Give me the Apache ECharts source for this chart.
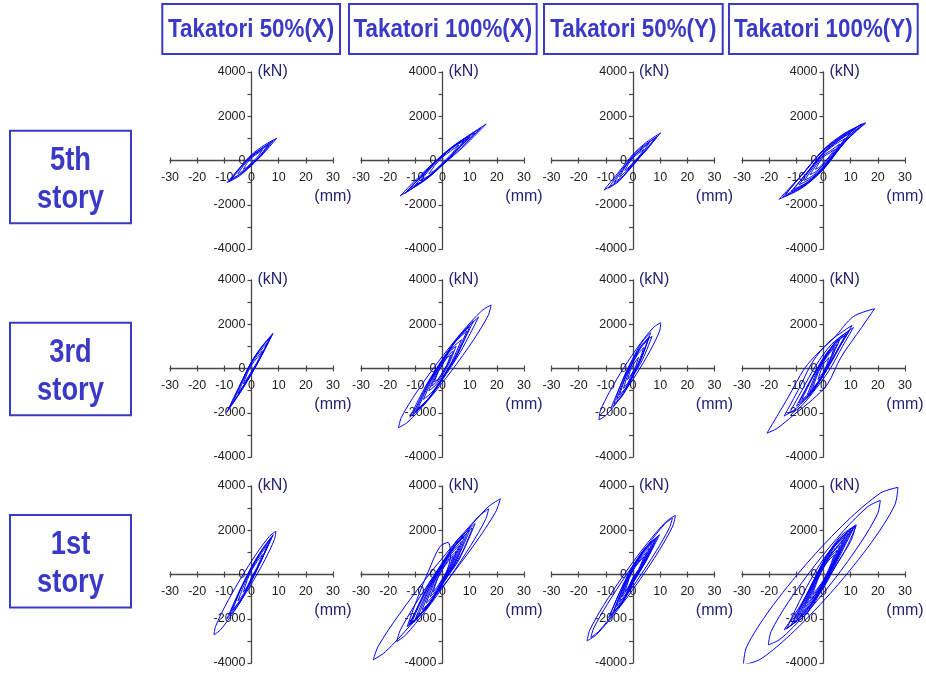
<!DOCTYPE html>
<html><head><meta charset="utf-8">
<script src="https://cdn.jsdelivr.net/npm/echarts@6/dist/echarts.min.js"></script>
<style>html,body{margin:0;padding:0;background:#fff}#c{width:926px;height:677px}</style>
</head><body><div id="c"></div><script>
// ---------- texts ----------
const columnTitles = ['Takatori 50%(X)', 'Takatori 100%(X)', 'Takatori 50%(Y)', 'Takatori 100%(Y)'];
const rowTitles = [['5th', 'story'], ['3rd', 'story'], ['1st', 'story']];
const xUnit = '(mm)';
const yUnit = '(kN)';
// ---------- axes ----------
const xMin = -30, xMax = 30, xStep = 10;
const yMin = -4000, yMax = 4000, yStep = 1000;
const yTickLabels = [4000, 2000, 0, -2000, -4000];

// ---------- hysteresis loops (displacement mm, shear force kN) ----------
// 5th story
const s5_50X = [
  [[-9,-1000],[-4.5,-350],[0,260],[4.8,700],[9.3,1010],[4.5,330],[0,-230],[-4.5,-700]],
  [[-8,-920],[-4,-300],[0,220],[3.5,520],[7,800],[3.5,250],[0,-200],[-4,-600]],
  [[-7,-800],[-3.5,-250],[0,200],[4,560],[8,900],[4,300],[0,-180],[-3.5,-560]],
  [[-5,-600],[-2.5,-160],[0,170],[3,420],[6,700],[3,200],[0,-150],[-2.5,-420]],
  [[-3,-400],[-1.5,-90],[0,120],[2,300],[4,480],[2,130],[0,-100],[-1.5,-280]]
];
const s5_100X = [
  [[-15.6,-1600],[-8,-650],[0,260],[8,1000],[16.1,1650],[8,650],[0,-200],[-8,-1000]],
  [[-14,-1500],[-7,-600],[0,200],[6,830],[12,1250],[6,560],[0,-160],[-7,-900]],
  [[-13,-1400],[-6.5,-550],[0,240],[7,900],[14,1450],[7,600],[0,-190],[-6.5,-900]],
  [[-12,-1250],[-6,-500],[0,230],[5,700],[10,1050],[5,440],[0,-180],[-6,-830]],
  [[-10,-1100],[-5,-400],[0,250],[5,750],[10,1100],[5,450],[0,-200],[-5,-750]],
  [[-8,-900],[-4,-300],[0,200],[4,600],[8,900],[4,330],[0,-170],[-4,-600]],
  [[-5,-600],[-2.5,-170],[0,150],[3,430],[6,700],[3,250],[0,-110],[-2.5,-410]]
];
const s5_50Y = [
  [[-10.7,-1340],[-5,-480],[0,280],[5,830],[10.2,1250],[5,520],[0,-230],[-5,-880]],
  [[-9,-1250],[-5,-550],[0,180],[5,730],[9,1100],[5,470],[0,-180],[-5,-920]],
  [[-7,-1000],[-3.5,-370],[0,230],[4,680],[8,1000],[4,370],[0,-180],[-3.5,-680]],
  [[-5,-750],[-2.5,-220],[0,180],[3,480],[6,800],[3,270],[0,-130],[-2.5,-480]],
  [[-3,-450],[-1.5,-120],[0,120],[2,320],[4,500],[2,160],[0,-100],[-1.5,-300]]
];
const s5_100Y = [
  [[-16.4,-1750],[-8,-650],[0,500],[8,1250],[15.6,1700],[8,850],[0,-400],[-8,-1250]],
  [[-15,-1650],[-7.5,-600],[0,470],[7.5,1180],[15,1680],[7.5,800],[0,-380],[-7.5,-1180]],
  [[-14,-1550],[-7,-500],[0,450],[7,1100],[14,1650],[7,700],[0,-350],[-7,-1100]],
  [[-12,-1400],[-6,-550],[0,350],[6,950],[12,1450],[6,600],[0,-300],[-6,-1000]],
  [[-11,-1300],[-5.5,-450],[0,380],[5.5,950],[11,1400],[5.5,600],[0,-320],[-5.5,-950]],
  [[-9,-1100],[-4.5,-350],[0,350],[5,850],[10,1250],[5,450],[0,-300],[-4.5,-800]],
  [[-7,-900],[-3.5,-250],[0,300],[4,700],[8,1000],[4,350],[0,-250],[-3.5,-650]],
  [[-5,-650],[-2.5,-170],[0,230],[3,480],[6,750],[3,270],[0,-180],[-2.5,-480]],
  [[-3,-400],[-1.5,-80],[0,170],[2,320],[4,500],[2,160],[0,-120],[-1.5,-300]]
];
// 3rd story
const s3_50X = [
  [[-9.1,-1980],[-4.5,-800],[0,300],[4,1000],[7.9,1590],[4,650],[0,-250],[-4.5,-1150]],
  [[-8,-1750],[-4,-700],[0,300],[3.5,950],[7,1450],[3.5,550],[0,-250],[-4,-1050]],
  [[-7,-1600],[-3.5,-580],[0,280],[4,1000],[7.5,1500],[4,650],[0,-230],[-3.5,-900]],
  [[-5,-1150],[-2.5,-380],[0,230],[3,750],[6,1200],[3,450],[0,-180],[-2.5,-680]],
  [[-3,-700],[-1.5,-200],[0,150],[2,480],[4,800],[2,270],[0,-130],[-1.5,-430]]
];
const s3_100X = [
  [[17.9,2870],[14.44,2607],[7.34,1672],[-1.51,313],[-9.72,-1104],[-15.1,-2199],[-16.2,-2680],[-12.74,-2417],[-5.64,-1482],[3.21,-123],[11.42,1294],[16.8,2389]],
  [[-12,-2200],[-6,-750],[0,420],[6.6,1520],[13.3,2330],[6.6,750],[0,-500],[-6,-1500]],
  [[-11,-2100],[-5.5,-700],[0,400],[5.7,1420],[11.4,2150],[5.7,720],[0,-420],[-5.5,-1400]],
  [[-10,-1950],[-5,-650],[0,330],[5,1250],[10,1900],[5,500],[0,-420],[-5,-1350]],
  [[-9,-1800],[-4.5,-580],[0,350],[4.5,1170],[9,1700],[4.5,480],[0,-450],[-4.5,-1280]],
  [[-7,-1400],[-3.5,-420],[0,300],[3.5,920],[7,1300],[3.5,330],[0,-400],[-3.5,-1020]],
  [[-5,-1000],[-2.5,-250],[0,290],[2.5,750],[5,1000],[2.5,250],[0,-290],[-2.5,-750]],
  [[-4,-800],[-2,-220],[0,200],[2,580],[4,800],[2,220],[0,-200],[-2,-580]],
  [[-3,-600],[-1.5,-140],[0,180],[1.5,460],[3,600],[1.5,140],[0,-180],[-1.5,-460]]
];
const s3_50Y = [
  [[10.2,2070],[7.59,1861],[2.64,1120],[-3.33,45],[-8.72,-1076],[-12.07,-1941],[-12.5,-2320],[-9.89,-2111],[-4.94,-1370],[1.03,-295],[6.42,826],[9.77,1691]],
  [[-8,-1750],[-4,-600],[0,420],[3.5,1100],[7,1450],[3.5,400],[0,-350],[-4,-1250]],
  [[-7,-1600],[-3.5,-420],[0,470],[3.25,1180],[6.5,1620],[3.25,500],[0,-330],[-3.5,-1120]],
  [[-6,-1400],[-3,-420],[0,380],[3,1000],[6,1450],[3,450],[0,-300],[-3,-950]],
  [[-5,-1200],[-2.5,-330],[0,300],[2.75,910],[5.5,1300],[2.75,400],[0,-300],[-2.5,-850]],
  [[-3.5,-900],[-1.75,-210],[0,280],[2,680],[4,950],[2,280],[0,-180],[-1.75,-620]],
  [[-2,-500],[-1,-100],[0,140],[1,340],[2,500],[1,100],[0,-140],[-1,-340]]
];
const s3_100Y = [
  [[-20.8,-2920],[-13,-1300],[-7,0],[-2,700],[4,1400],[11,2350],[18.8,2700],[14,1850],[6.4,500],[1.5,-700],[-4,-1400],[-11,-2100],[-17,-2700]],
  [[-14.5,-2150],[-9,-900],[-4,300],[2,1200],[10.5,1950],[7,1200],[2,100],[-4,-1000],[-10,-1800]],
  [[-12.5,-2000],[-8,-1000],[-3,100],[3,1100],[11,1850],[7,1000],[2,-100],[-4,-1100],[-9,-1800]],
  [[-10,-1700],[-5,-600],[0,400],[5,1300],[9.5,1700],[5,800],[0,-300],[-5,-1200]],
  [[-9,-1550],[-4.5,-450],[0,450],[4.5,1200],[9,1600],[4.5,700],[0,-300],[-4.5,-1100]],
  [[-8,-1400],[-4,-400],[0,500],[4,1100],[8,1500],[4,600],[0,-300],[-4,-1000]],
  [[-6,-1200],[-3,-300],[0,400],[3,900],[6,1300],[3,500],[0,-250],[-3,-800]],
  [[-5,-1050],[-2.5,-250],[0,350],[2.5,780],[5,1100],[2.5,400],[0,-220],[-2.5,-700]],
  [[-4,-900],[-2,-200],[0,300],[2,650],[4,950],[2,300],[0,-200],[-2,-600]],
  [[-2,-500],[-1,-100],[0,200],[1,350],[2,500],[1,100],[0,-150],[-1,-320]]
];
// 1st story
const s1_50X = [
  [[9,1960],[6.52,1716],[1.65,908],[-4.3,-246],[-9.75,-1438],[-13.22,-2346],[-13.8,-2730],[-11.32,-2486],[-6.45,-1678],[-0.5,-524],[4.95,668],[8.42,1576]],
  [[-9,-2000],[-4.5,-750],[0,300],[4,1150],[8,1800],[4,750],[0,-250],[-4.5,-1300]],
  [[-8,-1800],[-4,-650],[0,350],[3.5,1050],[7.5,1700],[4,750],[0,-300],[-4,-1150]],
  [[-7,-1600],[-3.5,-550],[0,300],[3.5,1000],[7,1600],[3.5,600],[0,-250],[-3.5,-1050]],
  [[-5,-1200],[-2.5,-400],[0,250],[3,850],[6,1350],[3,500],[0,-200],[-2.5,-800]],
  [[-3,-800],[-1.5,-220],[0,180],[2,580],[4,900],[2,320],[0,-130],[-1.5,-530]]
];
const s1_100X = [
  [[21.3,3420],[16.85,3058],[7.34,1818],[-4.71,32],[-16.06,-1822],[-23.67,-3246],[-25.5,-3860],[-21.05,-3498],[-11.54,-2258],[0.51,-472],[11.86,1382],[19.47,2806]],
  [[17,2970],[13.67,2658],[6.71,1626],[-2.03,150],[-10.19,-1374],[-15.61,-2538],[-16.8,-3030],[-13.47,-2718],[-6.51,-1686],[2.23,-210],[10.39,1314],[15.81,2478]],
  [[-13,-2350],[-9,-1000],[-5,200],[-1,1250],[2,1450],[3,900],[0,-300],[-5,-1300],[-10,-2100]],
  [[-12.5,-2300],[-6.25,-780],[0,500],[6,1580],[12,2300],[6,650],[0,-400],[-6.25,-1570]],
  [[-12,-2250],[-6,-650],[0,550],[6,1650],[11,2100],[7,950],[0,-450],[-6,-1550]],
  [[-11.5,-2200],[-5.75,-700],[0,450],[5,1350],[10,2000],[5,600],[0,-400],[-5.75,-1500]],
  [[-10,-2000],[-5,-620],[0,430],[4.5,1280],[9,1850],[4.5,520],[0,-380],[-5,-1380]],
  [[-9,-1900],[-4.5,-550],[0,400],[4,1200],[8,1700],[4,450],[0,-350],[-4.5,-1250]],
  [[-7.5,-1600],[-3.7,-450],[0,380],[3.5,1050],[7,1500],[3.5,420],[0,-330],[-3.7,-1100]],
  [[-6,-1300],[-3,-350],[0,350],[3,900],[6,1300],[3,350],[0,-300],[-3,-900]],
  [[-4.5,-1000],[-2.2,-270],[0,270],[2.5,730],[5,1050],[2.5,280],[0,-230],[-2.2,-700]],
  [[-3.5,-800],[-1.75,-170],[0,230],[2,580],[4,850],[2,220],[0,-180],[-1.75,-530]]
];
const s1_50Y = [
  [[15.6,2670],[12.22,2394],[5.39,1433],[-3.06,43],[-10.87,-1403],[-15.92,-2516],[-16.9,-3000],[-13.52,-2724],[-6.69,-1763],[1.76,-373],[9.57,1073],[14.62,2186]],
  [[14.5,2550],[11.57,2265],[5.42,1332],[-2.33,3],[-9.58,-1368],[-14.41,-2411],[-15.5,-2850],[-12.57,-2565],[-6.42,-1632],[1.33,-303],[8.58,1068],[13.41,2111]],
  [[-9,-1950],[-4.5,-700],[0,350],[5,1250],[9.8,1800],[5,650],[0,-350],[-4.5,-1350]],
  [[-8.5,-1850],[-4,-550],[0,400],[4.5,1200],[9,1700],[4.5,550],[0,-400],[-4,-1300]],
  [[-7.5,-1750],[-3.7,-600],[0,330],[4,1100],[8.5,1650],[4,500],[0,-330],[-3.7,-1200]],
  [[-7,-1650],[-3.5,-550],[0,300],[4,1050],[8,1550],[4,500],[0,-300],[-3.5,-1150]],
  [[-6,-1450],[-3,-450],[0,280],[3.5,950],[7,1400],[3.5,450],[0,-250],[-3,-1000]],
  [[-5,-1250],[-2.5,-400],[0,250],[3,800],[6,1200],[3,350],[0,-250],[-2.5,-850]],
  [[-4,-1000],[-2,-300],[0,220],[2.5,650],[5,1000],[2.5,280],[0,-180],[-2,-650]],
  [[-3,-800],[-1.5,-220],[0,180],[2,530],[4,800],[2,220],[0,-130],[-1.5,-530]]
];
const s1_100Y = [
  [[27.4,3940],[21.0,3681],[8.68,2416],[-6.25,485],[-19.78,-1594],[-28.29,-3265],[-29.5,-4080],[-23.09,-3821],[-10.78,-2556],[4.15,-625],[17.68,1454],[26.19,3125]],
  [[20.9,3345],[16.39,3074],[7.57,2001],[-3.2,413],[-13.03,-1263],[-19.29,-2578],[-20.3,-3180],[-15.79,-2910],[-6.97,-1837],[3.8,-249],[13.63,1427],[19.89,2742]],
  [[-14.5,-2500],[-8,-1300],[-2,0],[4,1100],[12,2200],[8,1100],[2,-100],[-5,-1400],[-10,-2100]],
  [[-13.5,-2450],[-10,-1500],[-5,-300],[0,700],[6,1600],[12,2250],[10,1500],[5,500],[0,-600],[-6,-1600],[-10,-2100]],
  [[-12,-2300],[-6,-850],[0,600],[6,1700],[11.5,2200],[6,850],[0,-550],[-6,-1750]],
  [[-11,-2150],[-5.5,-750],[0,580],[5.5,1550],[11,2150],[5.5,800],[0,-500],[-5.5,-1600]],
  [[-10,-2000],[-5,-650],[0,550],[5,1450],[10,2000],[5,750],[0,-450],[-5,-1450]],
  [[-9,-1850],[-4.5,-600],[0,520],[4.5,1350],[9,1850],[4.5,650],[0,-420],[-4.5,-1300]],
  [[-8,-1700],[-4,-500],[0,500],[4,1250],[8,1700],[4,550],[0,-400],[-4,-1150]],
  [[-7,-1500],[-3.5,-420],[0,430],[3.5,1080],[7,1500],[3.5,480],[0,-350],[-3.5,-1000]],
  [[-6,-1300],[-3,-350],[0,400],[3,950],[6,1300],[3,400],[0,-330],[-3,-900]],
  [[-5,-1100],[-2.5,-280],[0,330],[2.5,800],[5,1100],[2.5,330],[0,-280],[-2.5,-750]],
  [[-4,-900],[-2,-200],[0,300],[2,650],[4,900],[2,250],[0,-250],[-2,-600]]
];

const panels = [
  [s5_50X, s5_100X, s5_50Y, s5_100Y],
  [s3_50X, s3_100X, s3_50Y, s3_100Y],
  [s1_50X, s1_100X, s1_50Y, s1_100Y]
];

// ---------- layout & style ----------
const GRID_LEFT = [170, 361, 551.5, 742];
const GRID_TOP = [72, 280, 486];
const GRID_W = 163, GRID_H = 177;
const HEAD_LEFT = [162.3, 349, 544, 729];
const HEAD_W = [177.7, 187.7, 178.7, 188.7];
const HEAD_TOP = 4, HEAD_H = 50;
const ROW_BOX_LEFT = 10, ROW_BOX_W = 121, ROW_BOX_H = 92.5;
const ROW_BOX_TOP = [130.7, 322.7, 515];
const FONT = '"Liberation Sans", Arial, Helvetica, sans-serif';
const TITLE_BLUE = '#3a3ac6';
const UNIT_COLOR = '#232370';
const AXIS_COLOR = '#474747';
const CURVE_COLOR = '#0000ff';

const grids = [], xAxes = [], yAxes = [], series = [], graphics = [];
const nPanels = panels.length * panels[0].length;
panels.forEach((row, r) => row.forEach((loops, c) => {
  const i = r * 4 + c;
  grids.push({ left: GRID_LEFT[c], top: GRID_TOP[r], width: GRID_W, height: GRID_H, outerBoundsMode: 'none', containLabel: false });
  xAxes[i] = {
    gridIndex: i, type: 'value', min: xMin, max: xMax, interval: xStep,
    position: 'bottom', offset: -GRID_H / 2,
    axisLine: { onZero: false, lineStyle: { color: AXIS_COLOR, width: 1.3 } },
    axisTick: { length: 3, lineStyle: { color: AXIS_COLOR, width: 1.2 } },
    axisLabel: { margin: 11, fontSize: 12.5, color: '#222', fontFamily: FONT, hideOverlap: false },
    splitLine: { show: false },
    name: xUnit, nameLocation: 'end', nameGap: 0, nameMoveOverlap: false,
    nameTextStyle: { color: UNIT_COLOR, fontSize: 16, fontFamily: FONT, align: 'center', verticalAlign: 'top', padding: [28, 0, 0, 0] }
  };
  // companion axis: upper half of the crossing x ticks
  xAxes[nPanels + i] = {
    gridIndex: i, type: 'value', min: xMin, max: xMax, interval: xStep,
    position: 'top', offset: -GRID_H / 2,
    axisLine: { show: false, onZero: false },
    axisTick: { show: true, length: 3, lineStyle: { color: AXIS_COLOR, width: 1.2 } },
    axisLabel: { show: false }, splitLine: { show: false }
  };
  yAxes.push({
    gridIndex: i, type: 'value', min: yMin, max: yMax, interval: yStep,
    position: 'left', offset: -GRID_W / 2,
    axisLine: { onZero: false, lineStyle: { color: AXIS_COLOR, width: 1.3 } },
    axisTick: { length: 4, lineStyle: { color: AXIS_COLOR, width: 1.2 } },
    axisLabel: { margin: 6, fontSize: 12.5, color: '#222', fontFamily: FONT, hideOverlap: false,
      formatter: v => (yTickLabels.indexOf(v) >= 0 ? String(v) : '') },
    splitLine: { show: false },
    name: yUnit, nameLocation: 'end', nameGap: 0, nameMoveOverlap: false,
    nameTextStyle: { color: UNIT_COLOR, fontSize: 16, fontFamily: FONT, align: 'left', verticalAlign: 'middle', padding: [0, 0, 0, 6] }
  });
  loops.forEach(loop => {
    series.push({
      type: 'line', xAxisIndex: i, yAxisIndex: i,
      data: loop.concat([loop[0]]),
      symbol: 'none', showSymbol: false, smooth: 0.3, silent: true,
      lineStyle: { color: CURVE_COLOR, width: 1 }
    });
  });
}));

columnTitles.forEach((t, c) => {
  graphics.push({ type: 'rect', shape: { x: HEAD_LEFT[c], y: HEAD_TOP, width: HEAD_W[c], height: HEAD_H },
    style: { fill: 'none', stroke: TITLE_BLUE, lineWidth: 2 } });
  graphics.push({ type: 'text', x: HEAD_LEFT[c] + HEAD_W[c] / 2, y: HEAD_TOP + 26, scaleX: 0.86,
    style: { text: t, fill: TITLE_BLUE, font: 'bold 26px ' + FONT, textAlign: 'center', textVerticalAlign: 'middle' } });
});
rowTitles.forEach((lines, r) => {
  graphics.push({ type: 'rect', shape: { x: ROW_BOX_LEFT, y: ROW_BOX_TOP[r], width: ROW_BOX_W, height: ROW_BOX_H },
    style: { fill: 'none', stroke: TITLE_BLUE, lineWidth: 2 } });
  lines.forEach((ln, k) => {
    graphics.push({ type: 'text', x: ROW_BOX_LEFT + ROW_BOX_W / 2, y: ROW_BOX_TOP[r] + 30 + k * 38.5, scaleX: 0.84,
      style: { text: ln, fill: TITLE_BLUE, font: 'bold 32.5px ' + FONT, textAlign: 'center', textVerticalAlign: 'middle' } });
  });
});

const chart = echarts.init(document.getElementById('c'), null, { renderer: 'canvas' });
chart.setOption({
  animation: false,
  backgroundColor: '#ffffff',
  grid: grids, xAxis: xAxes, yAxis: yAxes, series: series,
  graphic: graphics
});
</script></body></html>
